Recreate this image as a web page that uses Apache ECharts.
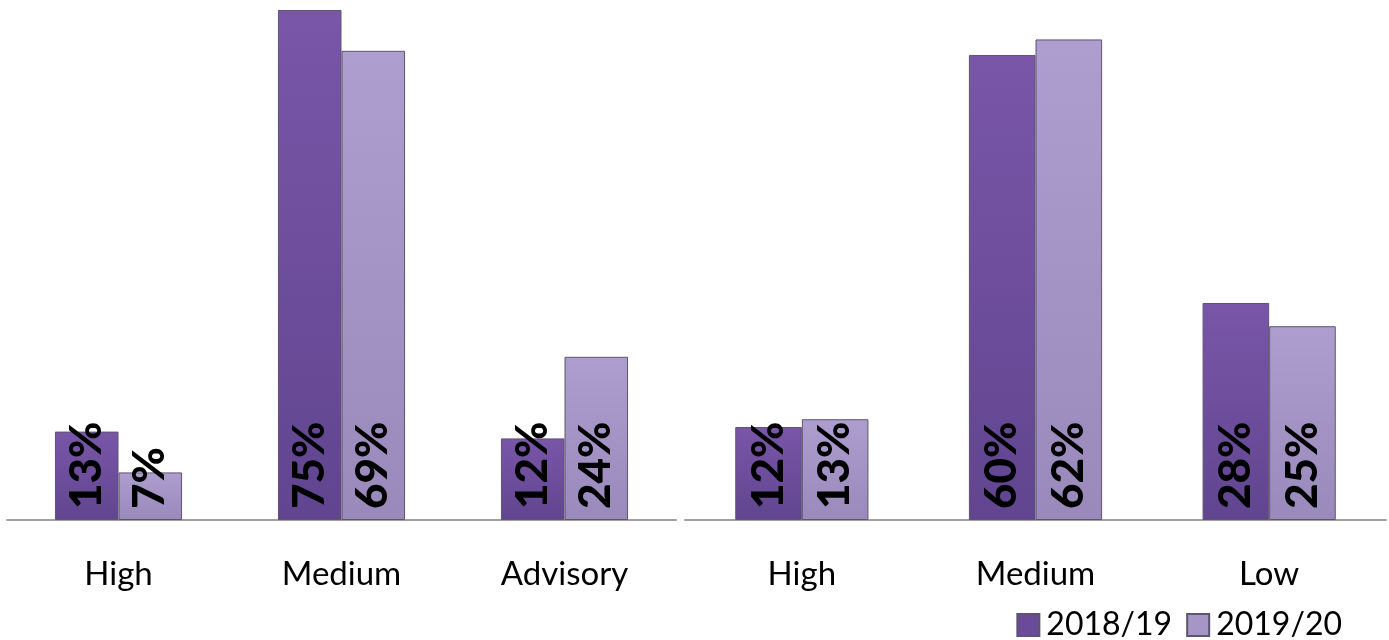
<!DOCTYPE html>
<html>
<head>
<meta charset="utf-8">
<script src="https://cdn.jsdelivr.net/npm/echarts@6/dist/echarts.min.js"></script>
<style>html,body{margin:0;padding:0;background:#fff;}#c{width:1389px;height:640px;}</style>
</head>
<body>
<div id="c"></div>
<script>
var seriesNames = ['2018/19', '2019/20'];
var leftCategories = ['High', 'Medium', 'Advisory'];
var left2018 = [13, 75, 12];
var left2019 = [7, 69, 24];
var rightCategories = ['High', 'Medium', 'Low'];
var right2018 = [12, 60, 28];
var right2019 = [13, 62, 25];

var FONT = 'Lato, Carlito, "Open Sans", sans-serif';
var darkFill = new echarts.graphic.LinearGradient(0, 0, 0, 1, [
  {offset: 0, color: '#7956a8'}, {offset: 1, color: '#614590'}]);
var lightFill = new echarts.graphic.LinearGradient(0, 0, 0, 1, [
  {offset: 0, color: '#ad9ecf'}, {offset: 1, color: '#9a89bb'}]);

var label = {
  show: true, position: 'insideBottom', rotate: 90, align: 'left', verticalAlign: 'middle',
  distance: 11, formatter: '{c}%', fontSize: 44, fontWeight: 900, color: '#000', fontFamily: FONT
};
function bar(name, data, fill, idx) {
  return {
    name: name, type: 'bar', data: data, xAxisIndex: idx, yAxisIndex: idx,
    barGap: '0%', barCategoryGap: '43%',
    itemStyle: {color: fill, borderColor: '#5e5470', borderWidth: 1},
    label: label, emphasis: {disabled: true}
  };
}
var xCommon = {
  type: 'category',
  axisLine: {lineStyle: {color: '#a0a0a0', width: 2}},
  axisTick: {show: false},
  axisLabel: {color: '#000', fontSize: 33, fontFamily: FONT, margin: 38}
};
var chart = echarts.init(document.getElementById('c'));
chart.setOption({
  animation: false,
  legend: {
    data: [{name: seriesNames[0], itemStyle: {color: '#6a4b9a'}}, {name: seriesNames[1], itemStyle: {color: '#a696c6'}}],
    right: 42, top: 604, itemWidth: 22, itemHeight: 22, itemGap: 14, icon: 'rect',
    textStyle: {fontSize: 32, fontFamily: FONT, color: '#000', padding: [0, 0, 0, 2]}
  },
  grid: [
    {left: 7, top: 10, width: 669, bottom: 120},
    {left: 685, top: 10, right: 3, bottom: 120}
  ],
  xAxis: [
    Object.assign({gridIndex: 0, data: leftCategories}, xCommon),
    Object.assign({gridIndex: 1, data: rightCategories}, xCommon)
  ],
  yAxis: [
    {gridIndex: 0, type: 'value', min: 0, max: 75, show: false},
    {gridIndex: 1, type: 'value', min: 0, max: 65.8, show: false}
  ],
  series: [
    bar(seriesNames[0], left2018, darkFill, 0),
    bar(seriesNames[1], left2019, lightFill, 0),
    bar(seriesNames[0], right2018, darkFill, 1),
    bar(seriesNames[1], right2019, lightFill, 1)
  ]
});
</script>
</body>
</html>
